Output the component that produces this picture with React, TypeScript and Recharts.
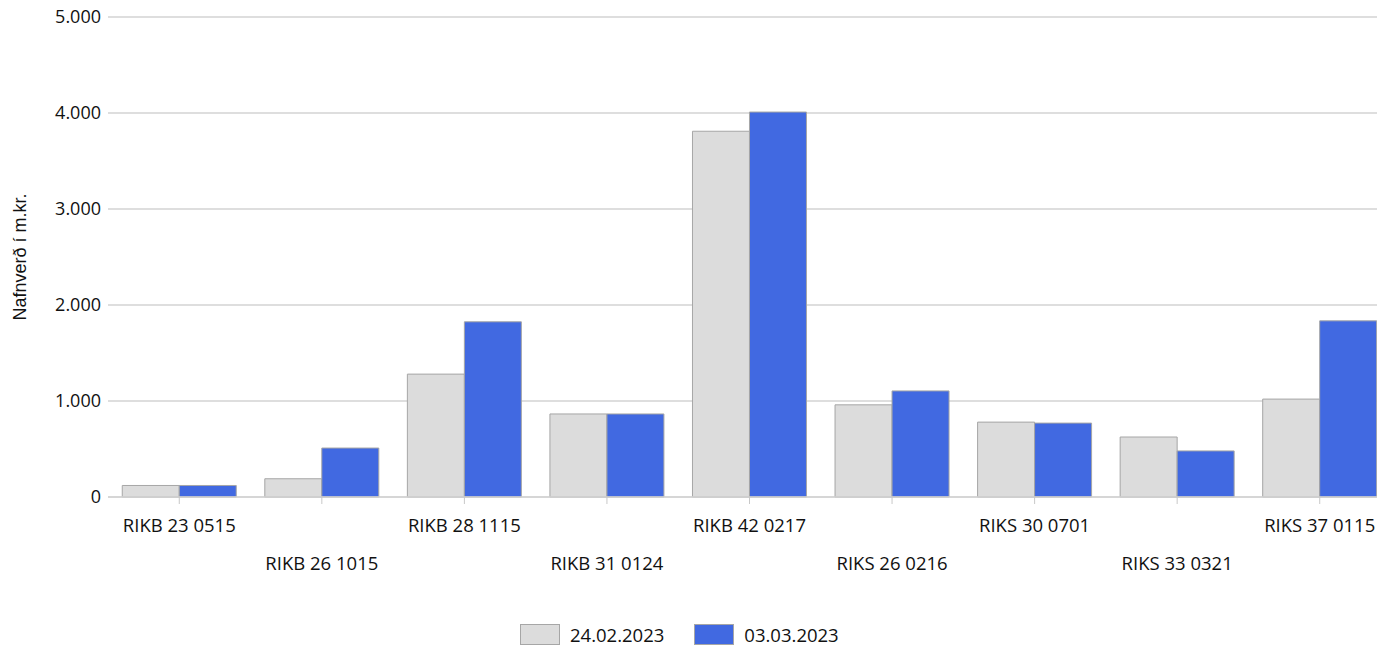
import React from 'react';
import { BarChart, Bar, XAxis, YAxis, CartesianGrid, Legend } from 'recharts';

const bonds = ['RIKB 23 0515', 'RIKB 26 1015', 'RIKB 28 1115', 'RIKB 31 0124', 'RIKB 42 0217', 'RIKS 26 0216', 'RIKS 30 0701', 'RIKS 33 0321', 'RIKS 37 0115'];
const feb24 = [120, 190, 1280, 865, 3810, 960, 780, 625, 1020];
const mar03 = [120, 510, 1825, 865, 4010, 1105, 770, 480, 1835];
const yTicks = [0, 1000, 2000, 3000, 4000, 5000];

const data = bonds.map((name, i) => ({ name, feb24: feb24[i], mar03: mar03[i] }));

const FONT = '"Open Sans", sans-serif';

const fmt = (v: number) => v.toLocaleString('de-DE');

// labels alternate between two rows
const StaggerTick = (props: any) => {
  const { x, y, payload, index } = props;
  const row = index % 2 === 0 ? 26 : 64;
  return (
    <text x={x} y={y + row} textAnchor="middle" fontFamily={FONT} fontSize={18.5} fill="#111">
      {payload.value}
    </text>
  );
};

const LegendBox = () => (
  <div style={{ display: 'flex', alignItems: 'center', paddingLeft: 520, paddingTop: 16, height: 28, fontFamily: FONT, fontSize: 18.5, color: '#111' }}>
    <span style={{ width: 38, height: 19, background: '#dcdcdc', border: '1px solid #a6a6a6', marginRight: 10 }} />
    <span style={{ marginRight: 30 }}>24.02.2023</span>
    <span style={{ width: 38, height: 19, background: '#4169e1', border: '1px solid #a6a6a6', marginRight: 10 }} />
    <span>03.03.2023</span>
  </div>
);

export default function App() {
  return (
    <div style={{ position: 'fixed', left: 0, top: 0, width: 1377, height: 648, overflow: 'hidden', background: '#fff' }}>
      <BarChart width={1391} height={648} data={data} margin={{ top: 17, right: 0, bottom: 0, left: 0 }} barCategoryGap="10%" barGap={0}>
        <CartesianGrid vertical={false} stroke="#d3d3d3" strokeWidth={1.5} />
        <XAxis dataKey="name" interval={0} height={107} tick={<StaggerTick />} tickSize={7} stroke="#c8c8c8" axisLine={{ stroke: '#d3d3d3', strokeWidth: 1.5 }} tickLine={{ stroke: '#c8c8c8' }} />
        <YAxis width={108} domain={[0, 5000]} ticks={yTicks} tickFormatter={fmt} axisLine={false} tickLine={false} tickSize={0} tickMargin={7}
          tick={{ fontFamily: FONT, fontSize: 18, fill: '#111' }}
          label={{ value: 'Nafnverð í m.kr.', angle: -90, position: 'center', dx: -34, style: { fontFamily: '"Liberation Sans", Arial, sans-serif', fontSize: 18, fill: '#111' } }} />
        <Legend verticalAlign="bottom" content={<LegendBox />} />
        <Bar dataKey="feb24" name="24.02.2023" fill="#dcdcdc" stroke="#a6a6a6" strokeWidth={1} isAnimationActive={false} />
        <Bar dataKey="mar03" name="03.03.2023" fill="#4169e1" stroke="#a6a6a6" strokeWidth={1} isAnimationActive={false} />
      </BarChart>
    </div>
  );
}
